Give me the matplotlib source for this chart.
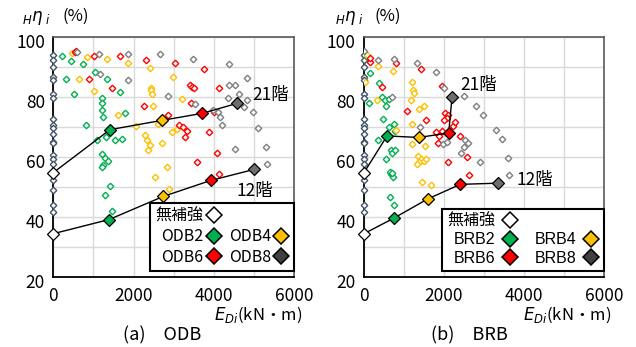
import matplotlib.pyplot as plt
from matplotlib.lines import Line2D
from matplotlib.transforms import ScaledTranslation

plt.rcParams['font.family'] = ['Noto Sans CJK JP', 'DejaVu Sans']
plt.rcParams['mathtext.fontset'] = 'dejavusans'

# storey points of the unreinforced frame, all at E = 0
base_y = [93.9, 92.2, 90.0, 86.7, 85.6, 81.1, 79.5, 72.8, 70.6, 69.5, 67.8,
          65.0, 64.5, 60.6, 59.5, 57.8, 52.2, 48.9, 43.9, 41.7]

# ---- (a) ODB ----
odb_21_x = [0, 1414, 2718, 3708, 4573]
odb_21_y = [54.8, 69.1, 72.2, 74.5, 77.8]
odb_12_x = [0, 1389, 2743, 3925, 5013]
odb_12_y = [34.5, 39.2, 46.9, 52.2, 55.9]

odb2_pts = [(225, 93.6), (441, 92.0), (733, 91.0), (317, 86.0), (520, 80.9), (1030, 88.4),
            (1347, 86.0), (1667, 81.7), (1215, 79.6), (1224, 77.9), (1224, 75.7), (1230, 73.4),
            (1789, 74.5), (824, 70.8), (1081, 65.5), (1314, 66.5), (1550, 65.7), (1705, 66.1),
            (1210, 61.0), (1290, 59.6), (1355, 58.6), (1247, 57.2), (1206, 56.6), (1414, 50.2),
            (1289, 47.2), (1455, 42.0)]
odb4_pts = [(458, 94.5), (848, 93.2), (1346, 92.5), (1853, 91.2), (640, 85.9), (1023, 82.1),
            (2411, 89.5), (2430, 83.1), (2445, 82.4), (2460, 81.1), (2977, 86.7), (3200, 79.3),
            (2477, 76.9), (1605, 74.1), (2054, 70.3), (2613, 71.1), (2952, 68.4), (3080, 69.3),
            (2287, 67.2), (2329, 65.6), (2412, 64.1), (2370, 62.2), (2720, 64.5), (2844, 56.8),
            (2545, 53.4), (2893, 49.5)]
odb6_pts = [(541, 94.8), (560, 95.2), (1023, 93.6), (898, 85.9), (1455, 83.0), (1663, 93.6),
            (2311, 92.2), (3035, 91.4), (3757, 89.1), (3409, 83.9), (3451, 83.3), (3517, 82.8),
            (4125, 82.8), (2271, 76.9), (3434, 77.8), (2852, 74.1), (4000, 74.8), (3135, 70.6),
            (3242, 69.9), (3325, 68.7), (3284, 66.7), (3890, 68.2), (4076, 61.2), (3585, 58.4),
            (4125, 54.4)]
odb8_pts = [(599, 95.0), (1143, 94.1), (1874, 94.3), (2648, 94.1), (3480, 92.6), (4370, 91.0),
            (4827, 86.4), (1168, 87.5), (1853, 85.6), (2868, 80.2), (3534, 77.5), (4345, 79.6),
            (4540, 84.1), (4370, 83.8), (4619, 81.1), (4827, 79.1), (4744, 76.7), (4968, 75.0),
            (3985, 75.6), (4110, 75.0), (4150, 73.3), (4195, 70.6), (5091, 69.5), (4540, 62.5),
            (5298, 63.2), (5323, 57.7)]

# ---- (b) BRB ----
brb_21_x = [0, 575, 1375, 2117, 2200]
brb_21_y = [54.8, 67.0, 66.5, 68.0, 79.8]
brb_12_x = [0, 750, 1600, 2408, 3350]
brb_12_y = [34.5, 39.7, 46.1, 50.9, 51.3]

brb2_pts = [(142, 88.0), (383, 84.6), (450, 80.0), (517, 78.9), (617, 79.2), (542, 76.9),
            (117, 78.1), (475, 72.8), (750, 71.1), (617, 70.0), (783, 68.7), (350, 65.6),
            (667, 62.2), (708, 61.3), (767, 62.2), (558, 59.5), (667, 54.4), (725, 53.5),
            (650, 55.0), (700, 54.7), (650, 46.6), (758, 44.2), (60, 93.5)]
brb4_pts = [(17, 85.0), (342, 90.4), (715, 88.5), (1200, 85.0), (1230, 82.3), (1262, 81.2),
            (1167, 79.0), (325, 79.0), (1365, 76.1), (1500, 76.8), (1200, 71.0), (800, 69.0),
            (1520, 63.8), (1200, 64.4), (1340, 60.4), (1420, 59.5), (1380, 58.4), (1500, 58.8),
            (1560, 59.5), (1330, 57.8), (1450, 51.6), (1670, 50.6), (80, 94.0)]
brb6_pts = [(142, 91.7), (808, 91.2), (1433, 89.3), (458, 83.4), (1083, 75.3), (1558, 72.3),
            (1950, 83.6), (2017, 74.5), (2100, 74.0), (2067, 73.0), (2000, 72.3), (2233, 70.2),
            (2275, 71.7), (1808, 68.3), (1867, 67.0), (1850, 64.8), (1960, 68.6), (2392, 67.1),
            (2575, 60.1), (2100, 58.5), (2617, 53.9), (150, 93.0)]
brb8_pts = [(0, 95.3), (350, 92.4), (750, 92.6), (1320, 91.2), (1800, 88.3), (1990, 83.0),
            (2500, 80.3), (2800, 76.8), (2980, 74.0), (692, 80.0), (1400, 70.0), (1967, 64.4),
            (2080, 65.0), (2533, 65.8), (2592, 64.7), (2508, 63.3), (2417, 61.4), (2910, 58.3),
            (3300, 69.0), (3458, 66.0), (3610, 59.6), (3630, 54.0)]

green, yellow, red, grey = '#00B050', '#FFC000', '#FF0000', '#7F7F7F'
big_grey, legend_grey = '#6E6E6E', '#404040'


def draw_panel(ax, scatter, line21, line12, lbl21, lbl12, names, legend_family,
               textpad, colspace):
    ax.set_xlim(0, 6000)
    ax.set_ylim(20, 100)
    ax.set_xticks([0, 2000, 4000, 6000])
    ax.set_xticks([1000, 3000, 5000], minor=True)
    ax.set_yticks([20, 40, 60, 80, 100])
    ax.set_yticks([30, 50, 70, 90], minor=True)
    ax.grid(True, which='both', color='#D9D9D9', lw=1.0, zorder=0)
    ax.set_axisbelow(True)
    ax.tick_params(which='both', length=0, labelsize=12.5, colors='black')
    ax.tick_params(axis='x', pad=7)
    ax.tick_params(axis='y', pad=6)
    for s in ('left', 'bottom'):
        ax.spines[s].set_color('black')
        ax.spines[s].set_linewidth(1.3)
    for s in ('top', 'right'):
        ax.spines[s].set_color('#595959')
        ax.spines[s].set_linewidth(1.2)
    shift = ScaledTranslation(0, -0.04, ax.figure.dpi_scale_trans)
    for t in ax.get_yticklabels():
        t.set_transform(t.get_transform() + shift)

    # unreinforced storeys
    ax.plot([0] * len(base_y), base_y, ls='none', marker='D', ms=3.3, mfc='white',
            mec='#44546A', mew=1.0, zorder=3, clip_on=False)
    for pts, c in zip(scatter, (green, yellow, red, grey)):
        xs = [p[0] for p in pts]
        ys = [p[1] for p in pts]
        ax.plot(xs, ys, ls='none', marker='D', ms=3.3, mfc='white', mec=c, mew=1.0, zorder=3)

    fills = ['white', green, yellow, red, big_grey]
    for (xs, ys) in (line21, line12):
        ax.plot(xs, ys, color='black', lw=1.0, zorder=4)
        for x, y, fc in zip(xs, ys, fills):
            ax.plot(x, y, ls='none', marker='D', ms=6.5, mfc=fc, mec='black', mew=0.9,
                    zorder=5, clip_on=False)

    ax.text(lbl21[0], lbl21[1], '21階', fontsize=12.5, va='center', ha='left', zorder=6)
    ax.text(lbl12[0], lbl12[1], '12階', fontsize=12.5, va='center', ha='left', zorder=6)

    def h(fc, visible=True):
        return Line2D([], [], ls='none', marker='D', ms=8.5, mfc=fc, mec='black', mew=1.1,
                      visible=visible)
    handles = [h('white'), h(green), h(red), h('white', False), h(yellow), h(legend_grey)]
    labels = ['無補強', names[0], names[2], '', names[1], names[3]]
    leg = ax.legend(handles, labels, loc='lower right', bbox_to_anchor=(1.0, 0.027),
                    ncols=2, markerfirst=False, fancybox=False, framealpha=1,
                    edgecolor='black', borderaxespad=0, handlelength=1.0,
                    handletextpad=textpad, columnspacing=colspace, labelspacing=0.22,
                    borderpad=0.3, prop={'family': legend_family, 'size': 11.5})
    leg.get_frame().set_linewidth(1.5)
    leg.set_zorder(7)


fig = plt.figure(figsize=(6.36, 3.47), dpi=100)
ax1 = fig.add_axes([53.3 / 636, 1 - 277.3 / 347, 240.7 / 636, 240.6 / 347])
ax2 = fig.add_axes([364 / 636, 1 - 277.3 / 347, 240 / 636, 240.6 / 347])

draw_panel(ax1, (odb2_pts, odb4_pts, odb6_pts, odb8_pts),
           (odb_21_x, odb_21_y), (odb_12_x, odb_12_y),
           (4955, 80.6), (4556, 48.7),
           ['ODB2', 'ODB4', 'ODB6', 'ODB8'], ['Noto Sans CJK JP', 'DejaVu Sans'],
           0.15, 0.45)
draw_panel(ax2, (brb2_pts, brb4_pts, brb6_pts, brb8_pts),
           (brb_21_x, brb_21_y), (brb_12_x, brb_12_y),
           (2417, 83.8), (3800, 52.5),
           ['BRB2', 'BRB4', 'BRB6', 'BRB8'],
           ['Liberation Sans Narrow', 'Liberation Sans', 'Noto Sans CJK JP'],
           0.45, 1.0)

for x0 in (22, 335):
    fig.text(x0 / 636, 1 - 21 / 347, r'$_{H}\eta_{\;i}$', fontsize=12, va='baseline',
             style='italic')
    fig.text((x0 + 40) / 636, 1 - 21 / 347, '(%)', fontsize=12, va='baseline')
for x1 in (302, 611):
    fig.text(x1 / 636, 1 - 320 / 347, r'$E_{Di}$(kN・m)', fontsize=12, ha='right',
             va='baseline')
fig.text(162 / 636, 1 - 335 / 347, '(a)\u3000ODB', fontsize=13, ha='center', va='center')
fig.text(469 / 636, 1 - 335 / 347, '(b)\u3000BRB', fontsize=13, ha='center', va='center')

fig.savefig('out.png', dpi=100)
